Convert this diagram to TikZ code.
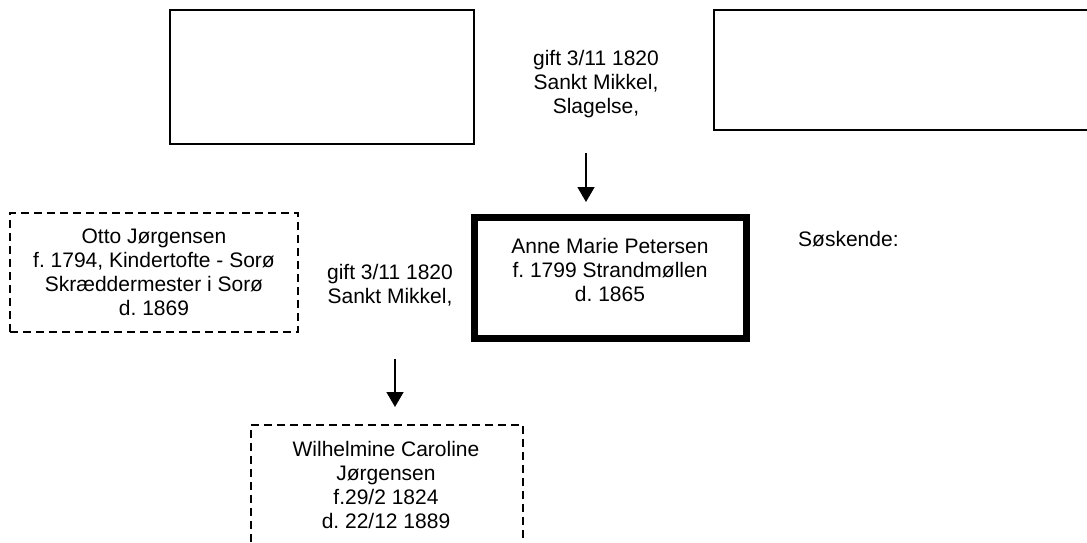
\documentclass[tikz,border=0pt]{standalone}
\usepackage{fontspec}
\setmainfont{Liberation Sans}
\usetikzlibrary{arrows.meta}
\frenchspacing
\begin{document}
\begin{tikzpicture}[x=1pt,y=-1pt,
  thinbox/.style={draw=black,line width=1.5pt,rectangle,inner sep=0pt},
  dashbox/.style={draw=black,line width=1.5pt,rectangle,inner sep=0pt,dash pattern=on 8pt off 5pt},
  thickbox/.style={draw=black,line width=7pt,rectangle,inner sep=0pt},
  txt/.style={inner sep=0pt,align=center,font=\fontsize{21}{24}\selectfont\frenchspacing},
  conn/.style={line width=1.5pt,-{Triangle[length=15pt,width=17pt]}}]
\clip (0,0) rectangle (1087,543);
\fill[white] (0,0) rectangle (1087,543);
% boxes
\node[thinbox,minimum width=304pt,minimum height=134pt] (father) at (322,77) {};
\node[thinbox,minimum width=381pt,minimum height=120pt] (mother) at (904.5,70) {};
\node[dashbox,minimum width=288pt,minimum height=119pt] (otto) at (154,272.5) {};
\node[thickbox,minimum width=272pt,minimum height=121pt] (anne) at (610.5,278) {};
\node[dashbox,minimum width=272pt,minimum height=140pt] (wilh) at (387,495) {};
% texts
\node[txt,anchor=north] (gifttop) at (596,50.5) {gift 3/11 1820\\Sankt Mikkel,\\Slagelse,};
\node[txt,anchor=north] (annetxt) at (610,238) {Anne Marie Petersen\\f. 1799 Strandmøllen\\d. 1865};
\node[txt,anchor=north] (giftleft) at (390,264.5) {gift 3/11 1820\\Sankt Mikkel,};
\node[txt,anchor=north] (ottotxt) at (154,228.5) {Otto Jørgensen\\f. 1794, Kindertofte - Sorø\\Skræddermester i Sorø\\d. 1869};
\node[txt,anchor=north] (wilhtxt) at (386,441.5) {Wilhelmine Caroline\\Jørgensen\\f.29/2 1824\\d. 22/12 1889};
\node[txt,anchor=base west] (sosk) at (798,246) {Søskende:};
% connectors
\coordinate (a1s) at (586,153);
\coordinate (a1e) at (586,202);
\coordinate (a2s) at (395,359);
\coordinate (a2e) at (395,407);
\draw[conn] (a1s) -- (a1e);
\draw[conn] (a2s) -- (a2e);
\end{tikzpicture}
\end{document}
